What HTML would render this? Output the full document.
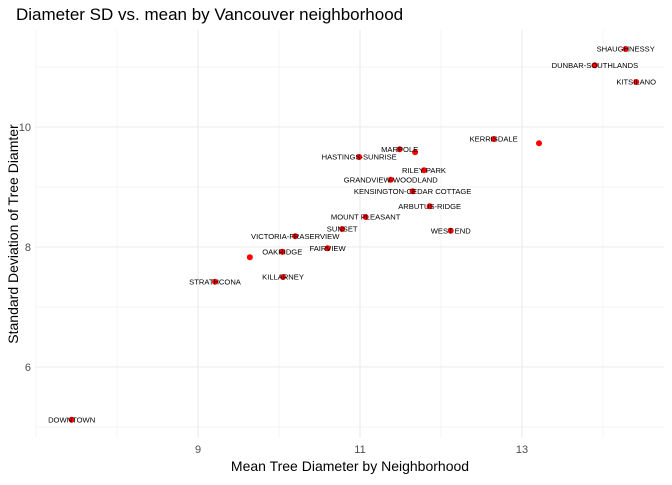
<!DOCTYPE html>
<html><head><meta charset="utf-8"><style>
body{margin:0;background:#fff;font-family:"Liberation Sans",sans-serif}
</style></head><body>
<svg id="c" width="672" height="480" xmlns="http://www.w3.org/2000/svg"></svg>
<script>
const names=["DOWNTOWN","STRATHCONA","","OAKRIDGE","KILLARNEY","VICTORIA-FRASERVIEW","FAIRVIEW","SUNSET","MOUNT PLEASANT","HASTINGS-SUNRISE","GRANDVIEW-WOODLAND","MARPOLE","","KENSINGTON-CEDAR COTTAGE","RILEY PARK","ARBUTUS-RIDGE","WEST END","KERRISDALE","","DUNBAR-SOUTHLANDS","SHAUGHNESSY","KITSILANO"];
const meanDiam=[7.44,9.21,9.64,10.04,10.05,10.20,10.60,10.78,11.07,10.99,11.38,11.49,11.68,11.65,11.79,11.86,12.12,12.65,13.21,13.90,14.28,14.41];
const sdDiam=[5.12,7.42,7.83,7.92,7.50,8.18,7.98,8.30,8.50,9.50,9.12,9.63,9.58,8.93,9.28,8.68,8.27,9.80,9.73,11.03,11.30,10.75];
const xTicks=[9,11,13];
const yTicks=[6,8,10];
const NS="http://www.w3.org/2000/svg";
const svg=document.getElementById('c');
const L=36,R=664,T=30,B=438;
const sx=v=>198+(v-9)*81;
const sy=v=>247-(v-8)*60;
function mk(tag,attrs,parent){const e=document.createElementNS(NS,tag);for(const k in attrs)e.setAttribute(k,attrs[k]);(parent||svg).appendChild(e);return e;}
const grid=mk('g',{});


for(let v=7;v<=15;v++){const x=sx(v);if(x<L||x>R)continue;const major=xTicks.includes(v);
 const l=mk('line',{x1:x,x2:x,y1:T,y2:B,stroke:'#ebebeb','stroke-width':major?1.1:0.55},grid);
 
 }
for(let v=4;v<=12;v++){const y=sy(v);if(y<T||y>B)continue;const major=yTicks.includes(v);
 const l=mk('line',{x1:L,x2:R,y1:y,y2:y,stroke:'#ebebeb','stroke-width':major?1.1:0.55},grid);
 
 }
xTicks.forEach(v=>{const t=mk('text',{x:sx(v),y:453,'text-anchor':'middle','font-size':11,fill:'#4d4d4d'});t.textContent=v;
 
 });
yTicks.forEach(v=>{const t=mk('text',{x:31,y:sy(v)+4,'text-anchor':'end','font-size':11,fill:'#4d4d4d'});t.textContent=v;
 
 });
const pts=mk('g',{});


meanDiam.forEach((m,i)=>{const c=mk('circle',{cx:sx(m),cy:sy(sdDiam[i]),r:3,fill:'#ff0000'},pts);
 
 });
meanDiam.forEach((m,i)=>{if(!names[i])return;const t=mk('text',{x:sx(m),y:sy(sdDiam[i])+2.7,'text-anchor':'middle','font-size':7.6,fill:'#000'},pts);t.textContent=names[i];
 
 });
const title=mk('text',{x:16,y:20,'font-size':17,fill:'#000'});title.textContent='Diameter SD vs. mean by Vancouver neighborhood';


const xt=mk('text',{x:350,y:471,'text-anchor':'middle','font-size':14,fill:'#000'});xt.textContent='Mean Tree Diameter by Neighborhood';


const yt=mk('text',{x:0,y:0,'text-anchor':'middle','font-size':14,fill:'#000',transform:'translate(18,234) rotate(-90)'});yt.textContent='Standard Deviation of Tree Diamter';


</script>
</body></html>
